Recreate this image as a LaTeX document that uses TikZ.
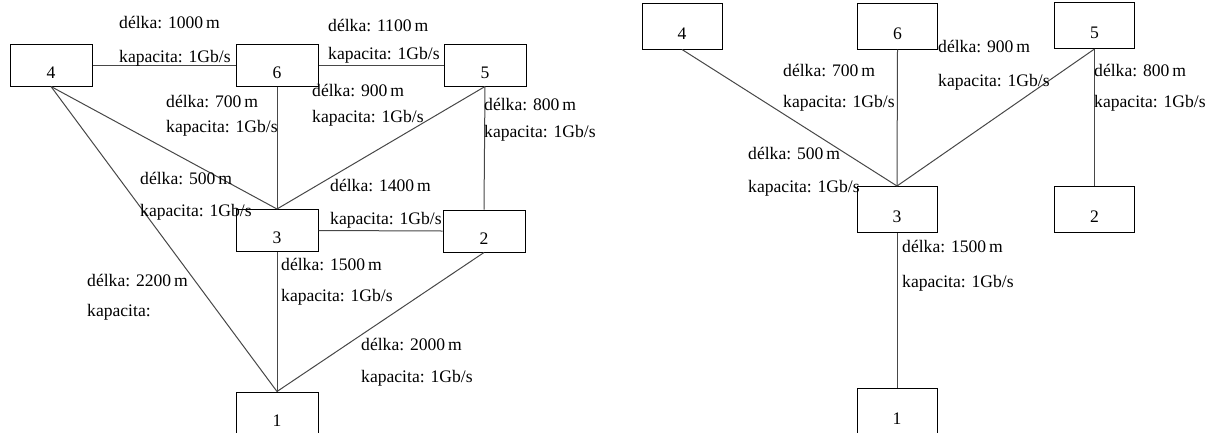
\documentclass[tikz,border=0pt]{standalone}
\usepackage{fontspec}
\setmainfont{Liberation Serif}
\newfontfamily\netfont{Liberation Serif}
\begin{document}
\begin{tikzpicture}[x=1pt,y=-1pt,
  txt/.style={font=\netfont\fontsize{17.6}{20}\selectfont},
  boxL/.style={txt,draw=black,line width=1pt,inner sep=0pt,
    minimum width=82pt,text height=34pt,text depth=8pt},
  boxR/.style={txt,draw=black,line width=1pt,inner sep=0pt,
    minimum width=80pt,text height=36pt,text depth=10pt},
  link/.style={draw=black!72,line width=1pt},
  lbl/.style={txt,anchor=west,inner sep=0pt,text height=12pt,text depth=3pt}]
\useasboundingbox (0,0) rectangle (1208,432);

% ---------- left network ----------
\node[boxL] (a4) at (51,65) {4};
\node[boxL] (a6) at (277,65) {6};
\node[boxL] (a5) at (485,65) {5};
\node[boxL] (a3) at (277,230.5) {3};
\node[boxL] (a2) at (484,231) {2};
\node[boxL] (a1) at (277,413) {1};

\draw[link] (a4.east) -- (a6.west);
\draw[link] (a6.east) -- (a5.west);
\draw[link] (a4.south) -- (a3.north);
\draw[link] (a4.south) -- (a1.north);
\draw[link] (a6.south) -- (a3.north);
\draw[link] (a5.south) -- (a3.north);
\draw[link] (a5.south) -- (a2.north);
\draw[link] (a3.east) -- (a2.west);
\draw[link] (a3.south) -- (a1.north);
\draw[link] (a2.south) -- (a1.north);

\node[lbl] (l46a) at (119,24) {délka: 1000\,m};
\node[lbl] (l46b) at (119,58) {kapacita: 1Gb/s};
\node[lbl] (l65a) at (328,27) {délka: 1100\,m};
\node[lbl] (l65b) at (328,55) {kapacita: 1Gb/s};
\node[lbl] (l63a) at (166,103) {délka: 700\,m};
\node[lbl] (l63b) at (166,128) {kapacita: 1Gb/s};
\node[lbl] (l53a) at (312,92) {délka: 900\,m};
\node[lbl] (l53b) at (312,118) {kapacita: 1Gb/s};
\node[lbl] (l52a) at (484,106) {délka: 800\,m};
\node[lbl] (l52b) at (484,133) {kapacita: 1Gb/s};
\node[lbl] (l43a) at (140,180) {délka: 500\,m};
\node[lbl] (l43b) at (140,212) {kapacita: 1Gb/s};
\node[lbl] (l32a) at (330,187) {délka: 1400\,m};
\node[lbl] (l32b) at (330,220) {kapacita: 1Gb/s};
\node[lbl] (l31a) at (281,266) {délka: 1500\,m};
\node[lbl] (l31b) at (281,297) {kapacita: 1Gb/s};
\node[lbl] (l41a) at (87,282) {délka: 2200\,m};
\node[lbl] (l41b) at (87,312) {kapacita:};
\node[lbl] (l21a) at (361,346) {délka: 2000\,m};
\node[lbl] (l21b) at (361,378) {kapacita: 1Gb/s};

% ---------- right network (spanning tree) ----------
\node[boxR] (b4) at (682,26) {4};
\node[boxR] (b6) at (897.5,26) {6};
\node[boxR] (b5) at (1094.5,25.5) {5};
\node[boxR] (b3) at (897,209.5) {3};
\node[boxR] (b2) at (1094.5,209) {2};
\node[boxR] (b1) at (897,411) {1};

\draw[link] (b4.south) -- (b3.north);
\draw[link] (b6.south) -- (b3.north);
\draw[link] (b5.south) -- (b3.north);
\draw[link] (b5.south) -- (b2.north);
\draw[link] (b3.south) -- (b1.north);

\node[lbl] (r63a) at (783,72) {délka: 700\,m};
\node[lbl] (r63b) at (783,103) {kapacita: 1Gb/s};
\node[lbl] (r53a) at (938,48) {délka: 900\,m};
\node[lbl] (r53b) at (938,82) {kapacita: 1Gb/s};
\node[lbl] (r52a) at (1094,72) {délka: 800\,m};
\node[lbl] (r52b) at (1094,103) {kapacita: 1Gb/s};
\node[lbl] (r43a) at (748,155) {délka: 500\,m};
\node[lbl] (r43b) at (748,188) {kapacita: 1Gb/s};
\node[lbl] (r31a) at (902,248) {délka: 1500\,m};
\node[lbl] (r31b) at (902,283) {kapacita: 1Gb/s};
\end{tikzpicture}
\end{document}
